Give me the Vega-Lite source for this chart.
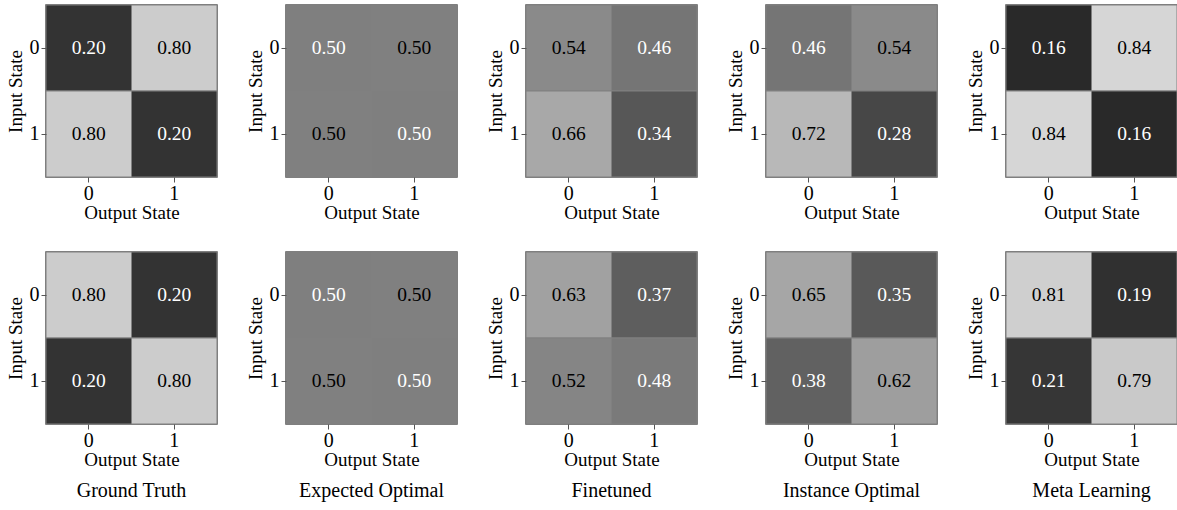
{
  "$schema": "https://vega.github.io/schema/vega-lite/v6.json",
  "padding": {"left": 5, "top": 3, "right": 0, "bottom": 2},
  "background": "white",
  "data": {
    "values": [
      {"task": 1, "method": "Ground Truth", "input": "0", "output": "0", "value": 0.2},
      {"task": 1, "method": "Ground Truth", "input": "0", "output": "1", "value": 0.8},
      {"task": 1, "method": "Ground Truth", "input": "1", "output": "0", "value": 0.8},
      {"task": 1, "method": "Ground Truth", "input": "1", "output": "1", "value": 0.2},
      {"task": 1, "method": "Expected Optimal", "input": "0", "output": "0", "value": 0.499},
      {"task": 1, "method": "Expected Optimal", "input": "0", "output": "1", "value": 0.501},
      {"task": 1, "method": "Expected Optimal", "input": "1", "output": "0", "value": 0.501},
      {"task": 1, "method": "Expected Optimal", "input": "1", "output": "1", "value": 0.499},
      {"task": 1, "method": "Finetuned", "input": "0", "output": "0", "value": 0.54},
      {"task": 1, "method": "Finetuned", "input": "0", "output": "1", "value": 0.46},
      {"task": 1, "method": "Finetuned", "input": "1", "output": "0", "value": 0.66},
      {"task": 1, "method": "Finetuned", "input": "1", "output": "1", "value": 0.34},
      {"task": 1, "method": "Instance Optimal", "input": "0", "output": "0", "value": 0.46},
      {"task": 1, "method": "Instance Optimal", "input": "0", "output": "1", "value": 0.54},
      {"task": 1, "method": "Instance Optimal", "input": "1", "output": "0", "value": 0.72},
      {"task": 1, "method": "Instance Optimal", "input": "1", "output": "1", "value": 0.28},
      {"task": 1, "method": "Meta Learning", "input": "0", "output": "0", "value": 0.16},
      {"task": 1, "method": "Meta Learning", "input": "0", "output": "1", "value": 0.84},
      {"task": 1, "method": "Meta Learning", "input": "1", "output": "0", "value": 0.84},
      {"task": 1, "method": "Meta Learning", "input": "1", "output": "1", "value": 0.16},
      {"task": 2, "method": "Ground Truth", "input": "0", "output": "0", "value": 0.8},
      {"task": 2, "method": "Ground Truth", "input": "0", "output": "1", "value": 0.2},
      {"task": 2, "method": "Ground Truth", "input": "1", "output": "0", "value": 0.2},
      {"task": 2, "method": "Ground Truth", "input": "1", "output": "1", "value": 0.8},
      {"task": 2, "method": "Expected Optimal", "input": "0", "output": "0", "value": 0.499},
      {"task": 2, "method": "Expected Optimal", "input": "0", "output": "1", "value": 0.501},
      {"task": 2, "method": "Expected Optimal", "input": "1", "output": "0", "value": 0.501},
      {"task": 2, "method": "Expected Optimal", "input": "1", "output": "1", "value": 0.499},
      {"task": 2, "method": "Finetuned", "input": "0", "output": "0", "value": 0.63},
      {"task": 2, "method": "Finetuned", "input": "0", "output": "1", "value": 0.37},
      {"task": 2, "method": "Finetuned", "input": "1", "output": "0", "value": 0.52},
      {"task": 2, "method": "Finetuned", "input": "1", "output": "1", "value": 0.48},
      {"task": 2, "method": "Instance Optimal", "input": "0", "output": "0", "value": 0.65},
      {"task": 2, "method": "Instance Optimal", "input": "0", "output": "1", "value": 0.35},
      {"task": 2, "method": "Instance Optimal", "input": "1", "output": "0", "value": 0.38},
      {"task": 2, "method": "Instance Optimal", "input": "1", "output": "1", "value": 0.62},
      {"task": 2, "method": "Meta Learning", "input": "0", "output": "0", "value": 0.81},
      {"task": 2, "method": "Meta Learning", "input": "0", "output": "1", "value": 0.19},
      {"task": 2, "method": "Meta Learning", "input": "1", "output": "0", "value": 0.21},
      {"task": 2, "method": "Meta Learning", "input": "1", "output": "1", "value": 0.79}
    ]
  },
  "facet": {
    "row": {"field": "task", "type": "ordinal", "title": null, "header": {"labels": false}},
    "column": {
      "field": "method",
      "type": "nominal",
      "title": null,
      "sort": ["Ground Truth", "Expected Optimal", "Finetuned", "Instance Optimal", "Meta Learning"],
      "header": {
        "labelOrient": "bottom",
        "labelFont": "Times New Roman, Liberation Serif, serif",
        "labelFontSize": 20,
        "labelColor": "black",
        "labelPadding": 11
      }
    }
  },
  "spacing": {"row": 27, "column": 26},
  "resolve": {"axis": {"x": "independent", "y": "independent"}},
  "spec": {
    "width": 171,
    "height": 172,
    "encoding": {
      "x": {
        "field": "output",
        "type": "ordinal",
        "axis": {"title": "Output State", "labelAngle": 0}
      },
      "y": {
        "field": "input",
        "type": "ordinal",
        "axis": {"title": "Input State"}
      }
    },
    "layer": [
      {
        "mark": {"type": "rect", "stroke": "#808080", "strokeWidth": 1},
        "encoding": {
          "color": {
            "field": "value",
            "type": "quantitative",
            "scale": {"domain": [0, 1], "range": ["#000000", "#ffffff"], "interpolate": "rgb"},
            "legend": null
          }
        }
      },
      {
        "mark": {"type": "text", "font": "Times New Roman, Liberation Serif, serif", "fontSize": 19.5},
        "encoding": {
          "text": {"field": "value", "type": "quantitative", "format": ".2f"},
          "color": {
            "condition": {"test": "datum.value < 0.5", "value": "white"},
            "value": "black"
          }
        }
      }
    ]
  },
  "config": {
    "view": {"stroke": "#555555", "strokeWidth": 1.5},
    "scale": {"bandPaddingInner": 0, "bandPaddingOuter": 0},
    "axis": {
      "domain": false,
      "labelFont": "Times New Roman, Liberation Serif, serif",
      "labelFontSize": 20,
      "labelColor": "black",
      "titleFont": "Times New Roman, Liberation Serif, serif",
      "titleFontSize": 19,
      "titleFontWeight": "normal",
      "titleColor": "black",
      "tickColor": "#555555",
      "tickSize": 5,
      "grid": false
    },
    "axisX": {"labelPadding": 1, "titlePadding": 0},
    "axisY": {"labelPadding": 2, "titlePadding": 4}
  }
}
